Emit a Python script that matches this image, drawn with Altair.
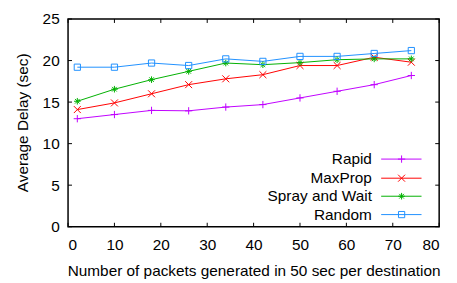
import altair as alt
import pandas as pd

x_vals = [2, 10, 18, 26, 34, 42, 50, 58, 66, 74]
rapid = [13.0, 13.5, 14.0, 13.95, 14.4, 14.7, 15.5, 16.3, 17.1, 18.2]
maxprop = [14.1, 14.9, 16.0, 17.1, 17.8, 18.3, 19.4, 19.4, 20.4, 19.8]
spray = [15.1, 16.55, 17.7, 18.7, 19.7, 19.5, 19.75, 20.1, 20.2, 20.2]
random_ = [19.2, 19.2, 19.7, 19.4, 20.2, 19.9, 20.5, 20.5, 20.85, 21.2]

series = ["Rapid", "MaxProp", "Spray and Wait", "Random"]
colors = ["#c000ff", "#ff0000", "#00b000", "#2090ff"]
shapes = [
    "M-1,0L1,0M0,-1L0,1",
    "M-1,-1L1,1M-1,1L1,-1",
    "M-1,0L1,0M0,-1L0,1M-0.7,-0.7L0.7,0.7M-0.7,0.7L0.7,-0.7",
    "square",
]
sizes = [55, 40, 50, 38]

x_ticks = [0, 10, 20, 30, 40, 50, 60, 70, 80]
y_ticks = [0, 5, 10, 15, 20, 25]

W, H = 377, 211
FONT = "Liberation Sans"
FS = 15.6

rows = []
for name, vals in zip(series, [rapid, maxprop, spray, random_]):
    for xv, yv in zip(x_vals, vals):
        rows.append({"x": xv, "y": yv, "series": name})
df = pd.DataFrame(rows)

# legend layout (data units)
leg_y = [8.14, 5.84, 3.67, 1.46]
leg = pd.DataFrame({"series": series, "ly": leg_y, "tx": 65.5, "x1": 67.5, "x2": 76.2, "mx": 71.9})

xs = alt.Scale(domain=[0, 80], nice=False, zero=False)
ys = alt.Scale(domain=[0, 25], nice=False, zero=False)
col = alt.Color("series:N", scale=alt.Scale(domain=series, range=colors), legend=None)
shp = alt.Shape("series:N", scale=alt.Scale(domain=series, range=shapes), legend=None)
sz = alt.Size("series:N", scale=alt.Scale(domain=series, range=sizes), legend=None)

base = alt.Chart(df)
lines = base.mark_line(strokeWidth=1).encode(
    x=alt.X("x:Q", scale=xs, axis=alt.Axis(
        title="Number of packets generated in 50 sec per destination",
        values=x_ticks, ticks=False, tickSize=0, domain=False, grid=False,
        labelPadding=23, labelBaseline="alphabetic",
        titleX=W / 2, titleY=50, titleBaseline="alphabetic", titleAlign="center")),
    y=alt.Y("y:Q", scale=ys, axis=alt.Axis(
        title="Average Delay (sec)", values=y_ticks, ticks=False, tickSize=0, domain=False,
        grid=False, labelPadding=9, labelBaseline="middle",
        titleX=-46, titleY=105, titleAngle=270, titleBaseline="middle", titleAlign="center")),
    color=col,
    detail="series:N",
)
points = base.mark_point(filled=False, strokeWidth=1, opacity=1).encode(
    x=alt.X("x:Q", scale=xs), y=alt.Y("y:Q", scale=ys), color=col, shape=shp, size=sz
)

xt = pd.DataFrame({"v": x_ticks})
yt = pd.DataFrame({"v": y_ticks})
tick_b = alt.Chart(xt).mark_rule(color="black", strokeWidth=1).encode(
    x=alt.X("v:Q", scale=xs), y=alt.value(H), y2=alt.value(H - 4))
tick_t = alt.Chart(xt).mark_rule(color="black", strokeWidth=1).encode(
    x=alt.X("v:Q", scale=xs), y=alt.value(0), y2=alt.value(4))
tick_l = alt.Chart(yt).mark_rule(color="black", strokeWidth=1).encode(
    y=alt.Y("v:Q", scale=ys), x=alt.value(0), x2=alt.value(4))
tick_r = alt.Chart(yt).mark_rule(color="black", strokeWidth=1).encode(
    y=alt.Y("v:Q", scale=ys), x=alt.value(W), x2=alt.value(W - 4))

lb = alt.Chart(leg)
leg_text = lb.mark_text(align="right", baseline="middle", font=FONT, fontSize=FS, color="black").encode(
    x=alt.X("tx:Q", scale=xs), y=alt.Y("ly:Q", scale=ys), text="series:N")
leg_line = lb.mark_rule(strokeWidth=1).encode(
    x=alt.X("x1:Q", scale=xs), x2="x2:Q", y=alt.Y("ly:Q", scale=ys), color=col)
leg_pt = lb.mark_point(filled=False, strokeWidth=1, opacity=1).encode(
    x=alt.X("mx:Q", scale=xs), y=alt.Y("ly:Q", scale=ys), color=col, shape=shp, size=sz)

chart = alt.layer(
    lines, points, tick_b, tick_t, tick_l, tick_r, leg_line, leg_pt, leg_text
).properties(
    width=W, height=H,
    autosize=alt.AutoSizeParams(type="none"),
    padding={"left": 61, "top": 9, "right": 10, "bottom": 55},
).configure_view(
    stroke="black", strokeWidth=1.5
).configure_axis(
    labelFont=FONT, titleFont=FONT, labelFontSize=FS, titleFontSize=FS,
    labelColor="black", titleColor="black", titleFontWeight="normal"
)

chart.save("out.html", embed_options={"renderer": "svg", "actions": False})
